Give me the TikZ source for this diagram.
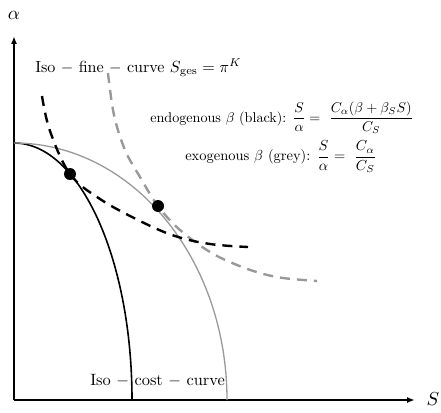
\documentclass[tikz,border=0pt]{standalone}
\usepackage{amsmath}
\usetikzlibrary{arrows.meta}
\begin{document}
\begin{tikzpicture}[x=1pt,y=-1pt,
  axis/.style={line width=1.6pt,-{Latex[length=8pt,width=6pt]}},
  lab/.style={scale=1.45,inner sep=0pt},
  blk/.style={line width=1.6pt,black},
  gry/.style={line width=1.3pt,black!40},
  blkdash/.style={line width=2.4pt,black,dash pattern=on 10pt off 7pt},
  grydash/.style={line width=2.4pt,black!40,dash pattern=on 10pt off 7pt},
  dot/.style={circle,fill=black,inner sep=0pt,minimum size=12pt}]
\useasboundingbox (0,0) rectangle (441,412);
\coordinate (O) at (14,400);
\coordinate (Ytip) at (14,36);
\coordinate (Xtip) at (415,400);
\draw[axis] (O) -- (Ytip);
\draw[axis] (O) -- (Xtip);
\node[lab,scale=1.3] (alpha) at (14,15) {$\alpha$};
\node[lab,scale=1.3] (S) at (433,399) {$S$};
% iso-cost curves (quarter ellipses)
\draw[blk] (14,143) arc[start angle=90,end angle=0,x radius=118,y radius=-257];
\draw[gry] (14,143) arc[start angle=90,end angle=0,x radius=213,y radius=-257];
% iso-fine curves
\draw[grydash] plot[smooth,tension=0.6] coordinates {(108,73) (114,115) (125,150) (140,177) (158,206) (180,230) (210,252) (237,265) (260,273) (283,278) (317,281)};
\draw[blkdash] plot[smooth,tension=0.6] coordinates {(42,96) (50,131) (70,174) (100,199) (140,221) (175,236) (210,244) (248,247)};
\node[dot] (d1) at (70,174) {};
\node[dot] (d2) at (158,206) {};
% texts
\node[lab,scale=1.11,anchor=west] (isofine) at (35,68) {Iso $-$ fine $-$ curve $S_{\mathrm{ges}}=\pi^{K}$};
\node[lab,scale=0.975,anchor=west] (endo) at (150,118) {endogenous $\beta$ (black)\/: $\dfrac{S}{\alpha}=\ \dfrac{C_\alpha(\beta+\beta_S S)}{C_S}$};
\node[lab,anchor=west] (exo) at (185,157) {exogenous $\beta$ (grey)\/: $\dfrac{S}{\alpha}=\ \dfrac{C_\alpha}{C_S}$};
\node[lab,scale=1.13,anchor=west] (isocost) at (90,381) {Iso $-$ cost $-$ curve};
\end{tikzpicture}
\end{document}
